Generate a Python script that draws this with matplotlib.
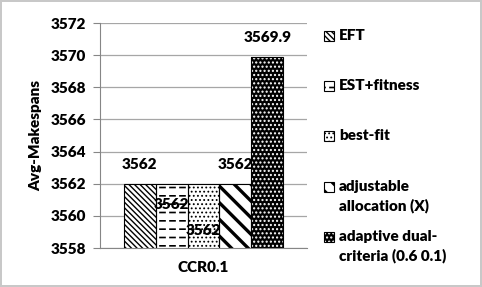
import matplotlib
matplotlib.use("Agg")
import numpy as np
import matplotlib.pyplot as plt
import matplotlib.hatch as mhatch
from matplotlib.path import Path
from matplotlib.patches import Rectangle

series = ["EFT", "EST+fitness", "best-fit", "adjustable\nallocation (X)", "adaptive dual-\ncriteria (0.6 0.1)"]
values = [3562, 3562, 3562, 3562, 3569.9]
value_labels = ["3562", "3562", "3562", "3562", "3569.9"]
category = "CCR0.1"
yticks = [3558, 3560, 3562, 3564, 3566, 3568, 3570, 3572]

# layout / style
label_y = [3563.2, 3560.7, 3559.1, 3563.2, 3571.1]
hatches = ["\\" * 6, "--", "....", "\\\\", "...."]
hatch_lw = [1.0, 1.2, 0.8, 2.4, 1.0]
faces = ["white", "white", "white", "white", "black"]
hcolors = ["black", "black", "black", "black", "white"]
legend_y_px = [36, 86, 136, 187, 237]


class DashedHorizontal(mhatch.HatchPatternBase):
    def __init__(self, hatch, density):
        self.num_lines = int((hatch.count('-') + hatch.count('+')) * density)
        self.ndash = 10
        self.num_vertices = self.num_lines * self.ndash * 2

    def set_vertices_and_codes(self, vertices, codes):
        ys = (np.arange(self.num_lines) + 0.5) / self.num_lines
        x0 = np.arange(self.ndash) / self.ndash
        dl = 0.5 / self.ndash
        Y, X = np.meshgrid(ys, x0, indexing='ij')
        vertices[0::2, 0] = X.ravel()
        vertices[0::2, 1] = Y.ravel()
        vertices[1::2, 0] = X.ravel() + dl
        vertices[1::2, 1] = Y.ravel()
        codes[0::2] = Path.MOVETO
        codes[1::2] = Path.LINETO


mhatch._hatch_types[:] = [DashedHorizontal if t is mhatch.HorizontalHatch else t
                          for t in mhatch._hatch_types]

plt.rcParams['font.family'] = ['Lato', 'DejaVu Sans']
WT = 'heavy'
plt.rcParams['font.weight'] = WT
FS = 11

fig = plt.figure(figsize=(4.82, 2.87), dpi=100)
fig.patch.set_edgecolor("#c8c8c8")
fig.patch.set_linewidth(1.5)
ax = fig.add_axes([100/482, 1-248/287, 207/482, 225/287])

n = len(values)
w = 0.309
xs = [(i - (n-1)/2) * w for i in range(n)]
for i in range(n):
    plt.rcParams['hatch.linewidth'] = hatch_lw[i]
    ax.bar(xs[i], values[i], width=w, bottom=0, color=faces[i], edgecolor=hcolors[i],
           hatch=hatches[i], linewidth=0, zorder=2)
    ax.bar(xs[i], values[i], width=w, bottom=0, color="none", edgecolor="black",
           linewidth=0.8, zorder=3)
    ax.text(xs[i], label_y[i], value_labels[i], ha="center", va="center",
            fontsize=FS, fontweight=WT, zorder=4)
    # legend entry
    yc = 1 - legend_y_px[i] / 287
    sz = 10
    r = Rectangle((324/482, yc - sz/2/287), sz/482, sz/287, transform=fig.transFigure,
                  facecolor=faces[i], edgecolor=hcolors[i], hatch=hatches[i], linewidth=0)
    fig.add_artist(r)
    fig.add_artist(Rectangle((324/482, yc - sz/2/287), sz/482, sz/287, transform=fig.transFigure,
                             facecolor="none", edgecolor="black", linewidth=0.8))
    fig.text(339/482, yc + 7/287, series[i], ha="left", va="top", fontsize=FS,
             fontweight=WT, linespacing=1.45)

ax.set_ylim(3558, 3572)
ax.set_xlim(-1, 1)
ax.set_yticks(yticks)
ax.set_yticklabels([str(t) for t in yticks], fontsize=FS, fontweight=WT)
ax.set_xticks([0])
ax.set_xticklabels([category], fontsize=FS, fontweight=WT)
ax.tick_params(axis="x", length=0, pad=9)
ax.tick_params(axis="y", length=5, color="#868686", pad=5)
ax.yaxis.grid(True, color="#a6a6a6", linewidth=0.9, zorder=0)
ax.set_axisbelow(True)
for s in ["top", "right"]:
    ax.spines[s].set_visible(False)
for s in ["left", "bottom"]:
    ax.spines[s].set_color("#868686")
ax.set_ylabel("Avg-Makespans", fontsize=FS, fontweight=WT, labelpad=6)

fig.savefig("out.png", dpi=100)
